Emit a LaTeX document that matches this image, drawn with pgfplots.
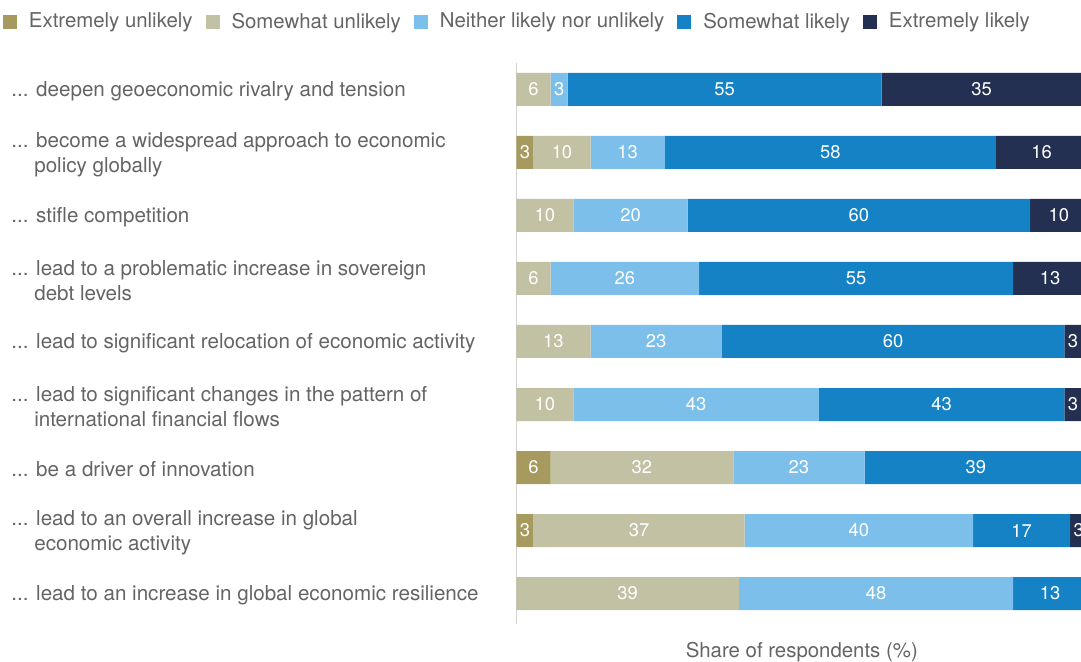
\documentclass[border=0pt]{standalone}
\usepackage{pgfplots}
\pgfplotsset{compat=1.18}
\usepackage{pgfplotstable}
\usepackage{fontspec}
\setmainfont{TeX Gyre Heros}

\definecolor{cEU}{HTML}{A69A5F}
\definecolor{cSU}{HTML}{C2C1A4}
\definecolor{cNE}{HTML}{7BBFEA}
\definecolor{cSL}{HTML}{1482C5}
\definecolor{cEL}{HTML}{243052}
\definecolor{txt}{HTML}{646464}

% three dots, kept apart so that \foreach does not read them as a range
\newcommand{\el}{.{}.{}.}

% shares per statement, top to bottom
\pgfplotstableread{
idx eu su ne sl xl
0 0 6 3 55 35
1 3 10 13 58 16
2 0 10 20 60 10
3 0 6 26 55 13
4 0 13 23 60 3
5 0 10 43 43 3
6 6 32 23 39 0
7 3 37 40 17 3
8 0 39 48 13 0
}\shares

\pgfplotsset{
  frame/.style={
    at={(258.15pt,-31.35pt)}, anchor=north west,
    scale only axis, width=285.5pt, height=280.65pt,
    xmin=0, xmax=100, ymin=-0.425, ymax=8.484, y dir=reverse,
  },
  lbl/.style={draw=none, mark=none, nodes near coords={\pgfmathfloatifflags{\pgfplotspointmeta}{0}{}{\pgfmathprintnumber{\pgfplotspointmeta}}}},
}

\begin{document}
\begin{tikzpicture}
\path[use as bounding box] (0pt,0pt) rectangle (540.5pt,-331pt);
\begin{axis}[
  frame,
  xbar stacked, bar width=16.5pt,
  axis lines*=left,
  x axis line style={draw=none},
  y axis line style={draw=black!18, line width=0.8pt},
  xtick=\empty,
  ytick={0,1,2,3,4,5,6,7,8},
  major tick length=0pt,
  yticklabels={
    {\el{} deepen geoeconomic rivalry and tension},
    {\el{} become a widespread approach to economic\\\phantom{\el\ }policy globally},
    {\el{} stifle competition},
    {\el{} lead to a problematic increase in sovereign\\\phantom{\el\ }debt levels},
    {\el{} lead to significant relocation of economic activity},
    {\el{} lead to significant changes in the pattern of\\\phantom{\el\ }international financial flows},
    {\el{} be a driver of innovation},
    {\el{} lead to an overall increase in global\\\phantom{\el\ }economic activity},
    {\el{} lead to an increase in global economic resilience}},
  yticklabel style={anchor=west, align=left, inner sep=0pt, xshift=-252.65pt,
    yshift=-1pt, font=\fontsize{10.3}{12.5}\selectfont, text=txt},
  every axis x label/.style={at={(axis description cs:0.5,0)}, anchor=center,
    yshift=-14pt, font=\fontsize{10.2}{12}\selectfont, text=txt},
  xlabel={Share of respondents (\%)},
  legend columns=5,
  legend style={at={(axis description cs:-0.899,1.0725)}, anchor=west,
    draw=none, fill=none, inner sep=0pt, outer sep=0pt,
    font=\fontsize{10.2}{12}\selectfont, text=txt,
    nodes={inner sep=0pt},
    /tikz/every even column/.append style={column sep=6.5pt},
    /tikz/every odd column/.append style={column sep=6pt}},
  legend image code/.code={\fill[#1] (0pt,-3.5pt) rectangle (7pt,3.5pt);},
]
\addplot[fill=cEU, draw=none] table[x=eu, y=idx] {\shares};
\addplot[fill=cSU, draw=none] table[x=su, y=idx] {\shares};
\addplot[fill=cNE, draw=none] table[x=ne, y=idx] {\shares};
\addplot[fill=cSL, draw=none] table[x=sl, y=idx] {\shares};
\addplot[fill=cEL, draw=none] table[x=xl, y=idx] {\shares};
\legend{Extremely unlikely, Somewhat unlikely, Neither likely nor unlikely, Somewhat likely, Extremely likely}
\end{axis}
% value labels, centred on each segment
\begin{axis}[
  frame, hide axis, clip=false,
  /pgf/number format/assume math mode=true,
  every node near coord/.append style={anchor=center, inner sep=0pt,
    text=white, font=\fontsize{9.2}{11}\selectfont},
]
\addplot[lbl, point meta={\thisrow{eu}}] table[x expr={\thisrow{eu}/2}, y=idx] {\shares};
\addplot[lbl, point meta={\thisrow{su}}] table[x expr={\thisrow{eu}+\thisrow{su}/2}, y=idx] {\shares};
\addplot[lbl, point meta={\thisrow{ne}}] table[x expr={\thisrow{eu}+\thisrow{su}+\thisrow{ne}/2}, y=idx] {\shares};
\addplot[lbl, point meta={\thisrow{sl}}] table[x expr={\thisrow{eu}+\thisrow{su}+\thisrow{ne}+\thisrow{sl}/2}, y=idx] {\shares};
\addplot[lbl, point meta={\thisrow{xl}}] table[x expr={\thisrow{eu}+\thisrow{su}+\thisrow{ne}+\thisrow{sl}+\thisrow{xl}/2}, y=idx] {\shares};
\end{axis}
\end{tikzpicture}
\end{document}
